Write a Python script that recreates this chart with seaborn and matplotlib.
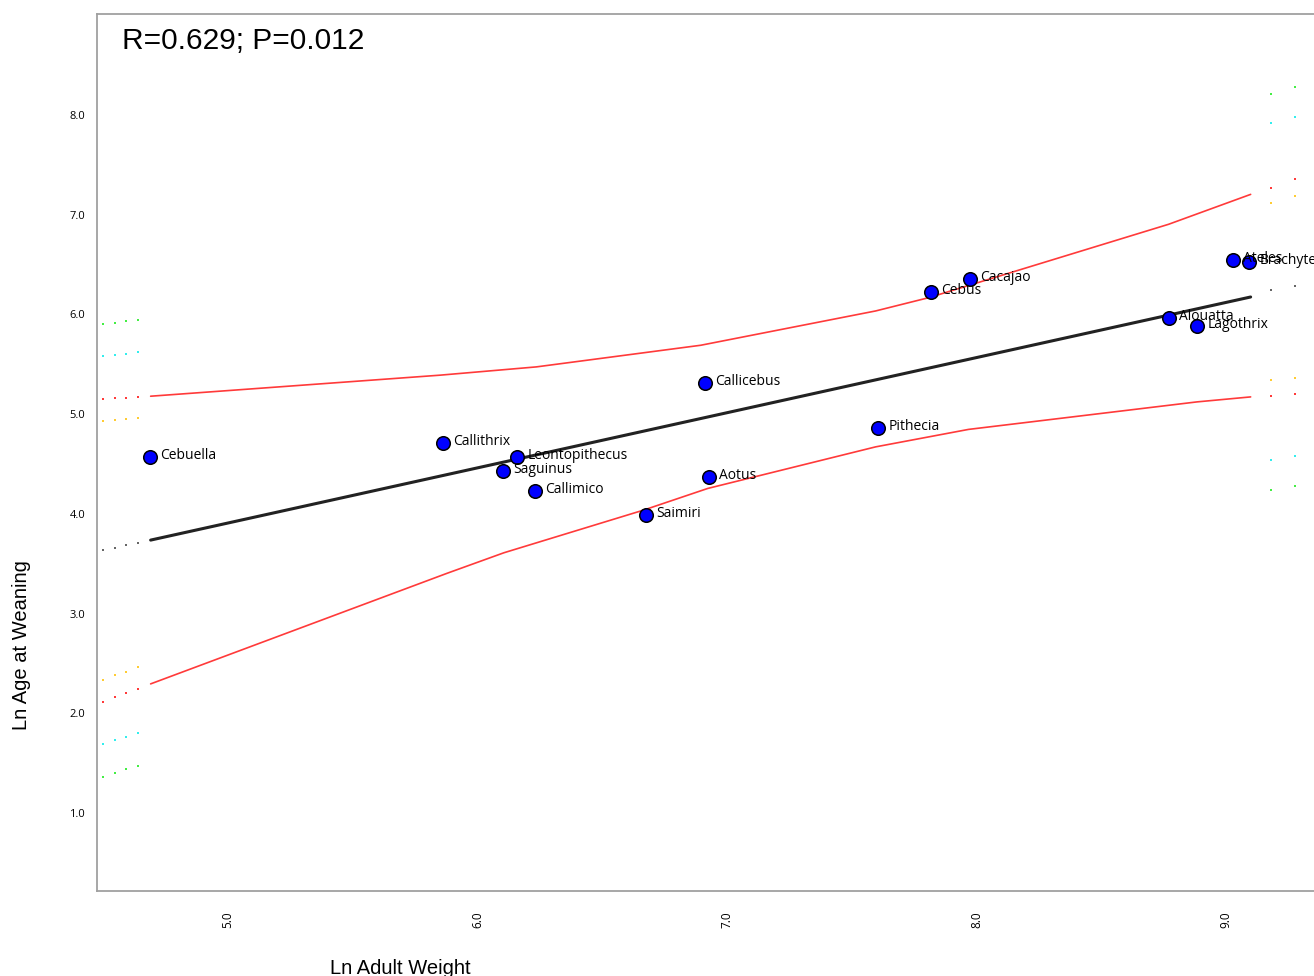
"""
Ln age at weaning vs ln adult weight (platyrrhine genera)
Fitted line with red confidence curves, recreated with seaborn.
"""

import pandas as pd
import numpy as np
import matplotlib.pyplot as plt
import seaborn as sns

# ── Data ──────────────────────────────────────────────────────────────────────
genus = ["Cebuella", "Callithrix", "Leontopithecus", "Saguinus", "Callimico",
         "Saimiri", "Callicebus", "Aotus", "Pithecia", "Cebus", "Cacajao",
         "Alouatta", "Lagothrix", "Ateles", "Brachyteles"]
ln_weight = [4.687, 5.862, 6.158, 6.102, 6.230, 6.675, 6.912, 6.928, 7.605,
             7.818, 7.974, 8.772, 8.884, 9.028, 9.092]
ln_weaning = [4.569, 4.709, 4.569, 4.429, 4.228, 3.988, 5.311, 4.369, 4.860,
              6.222, 6.353, 5.962, 5.882, 6.543, 6.523]

fit_x = [4.690, 9.099]
fit_y = [3.737, 6.175]

upper_x = [4.690, 5.850, 6.236, 6.895, 7.596, 7.810, 8.770, 9.099]
upper_y = [5.180, 5.391, 5.474, 5.691, 6.035, 6.169, 6.904, 7.204]
lower_x = [4.690, 5.878, 6.106, 6.666, 6.923, 7.596, 7.968, 8.884, 9.099]
lower_y = [2.295, 3.404, 3.610, 4.038, 4.255, 4.672, 4.847, 5.123, 5.173]

# stray dotted stubs at the plot edges (left: 4 dots, right: 2 dots)
left_x = [4.499, 4.547, 4.591, 4.639]
right_x = [9.180, 9.277]
left_green_hi = [5.909, 5.919, 5.935, 5.949]
left_cyan_hi = [5.581, 5.591, 5.604, 5.624]
left_red_hi = [5.157, 5.160, 5.167, 5.170]
left_orange_hi = [4.927, 4.940, 4.953, 4.963]
left_black = [3.637, 3.660, 3.684, 3.707]
left_orange_lo = [2.335, 2.385, 2.418, 2.462]
left_red_lo = [2.114, 2.161, 2.207, 2.244]
left_cyan_lo = [1.696, 1.733, 1.767, 1.804]
left_green_lo = [1.363, 1.406, 1.443, 1.476]
right_green_hi = [8.210, 8.284]
right_cyan_hi = [7.923, 7.979]
right_red_hi = [7.271, 7.355]
right_orange_hi = [7.121, 7.191]
right_black = [6.242, 6.283]
right_orange_lo = [5.344, 5.367]
right_red_lo = [5.184, 5.207]
right_cyan_lo = [4.542, 4.576]
right_green_lo = [4.242, 4.276]

x_ticks = [5.0, 6.0, 7.0, 8.0, 9.0]
y_ticks = [1.0, 2.0, 3.0, 4.0, 5.0, 6.0, 7.0, 8.0]

GREEN, CYAN, RED, ORANGE, DARK = "#44ee44", "#33eeee", "#ff3a3a", "#ffcc33", "#666666"

# ── Style ─────────────────────────────────────────────────────────────────────
sns.set_theme(style="white")
plt.rcParams.update({
    "font.family": ["Liberation Sans", "DejaVu Sans"],
    "text.color": "black",
    "xtick.color": "black",
    "ytick.color": "black",
})

W, H = 1314, 976
fig = plt.figure(figsize=(W / 100, H / 100), dpi=100)
ax = fig.add_axes([97 / W, 85 / H, (W - 97) / W, 877 / H])

# ── Marks ─────────────────────────────────────────────────────────────────────
sns.lineplot(x=upper_x, y=upper_y, color=RED, lw=1.2, sort=False, estimator=None, ax=ax)
sns.lineplot(x=lower_x, y=lower_y, color=RED, lw=1.2, sort=False, estimator=None, ax=ax)
sns.lineplot(x=fit_x, y=fit_y, color="#222222", lw=2.2, sort=False, estimator=None, ax=ax)

stubs = [
    (left_x, left_green_hi, GREEN), (left_x, left_cyan_hi, CYAN),
    (left_x, left_red_hi, RED), (left_x, left_orange_hi, ORANGE),
    (left_x, left_black, DARK), (left_x, left_orange_lo, ORANGE),
    (left_x, left_red_lo, RED), (left_x, left_cyan_lo, CYAN),
    (left_x, left_green_lo, GREEN),
    (right_x, right_green_hi, GREEN), (right_x, right_cyan_hi, CYAN),
    (right_x, right_red_hi, RED), (right_x, right_orange_hi, ORANGE),
    (right_x, right_black, DARK), (right_x, right_orange_lo, ORANGE),
    (right_x, right_red_lo, RED), (right_x, right_cyan_lo, CYAN),
    (right_x, right_green_lo, GREEN),
]
for xs, ys, col in stubs:
    sns.scatterplot(x=xs, y=ys, color=col, marker="s", s=3, linewidth=0, ax=ax)

pts = pd.DataFrame({"genus": genus, "w": ln_weight, "a": ln_weaning})
sns.scatterplot(data=pts, x="w", y="a", color="#0000ff", edgecolor="black",
                linewidth=1.1, s=95, zorder=5, ax=ax)
for _, row in pts.iterrows():
    ax.annotate(row["genus"], (row["w"], row["a"]), xytext=(7.5, 1),
                textcoords="offset points", va="center", ha="left",
                fontsize=10, family=["Open Sans", "DejaVu Sans"], zorder=6)

# ── Axes ──────────────────────────────────────────────────────────────────────
ax.set_xlim(4.475, 9.353)
ax.set_ylim(0.218, 9.013)
ax.set_xticks(x_ticks)
ax.set_xticklabels([f"{v:.1f}" for v in x_ticks], rotation=90,
                   family=["Open Sans", "DejaVu Sans"], fontsize=8.5)
ax.set_yticks(y_ticks)
ax.set_yticklabels([f"{v:.1f}" for v in y_ticks],
                   family=["Open Sans", "DejaVu Sans"], fontsize=8)
ax.tick_params(axis="x", length=0, pad=15)
ax.tick_params(axis="y", length=0, pad=8.5)
ax.set_xlabel("")
ax.set_ylabel("")
ax.grid(False)
for side in ["left", "bottom", "top"]:
    ax.spines[side].set_color("#a0a0a0")
    ax.spines[side].set_linewidth(1.3)
ax.spines["right"].set_visible(False)

fig.text(122 / W, 1 - 41 / H, "R=0.629; P=0.012", fontsize=21.5, va="center", ha="left")
fig.text(330 / W, 1.5 / H, "Ln Adult Weight", fontsize=14.5, va="baseline", ha="left")
fig.text(22 / W, 1 - 645 / H, "Ln Age at Weaning", fontsize=14.5, rotation=90,
         va="center", ha="center")

fig.savefig("out.png", dpi=100)
plt.close(fig)
